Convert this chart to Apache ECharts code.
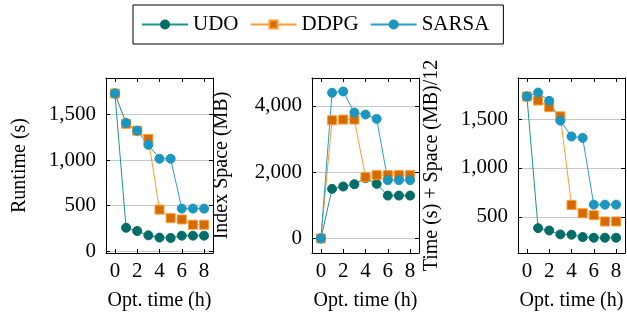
<!DOCTYPE html>
<html>
<head>
<meta charset="utf-8">
<script src="https://cdn.jsdelivr.net/npm/echarts@6/dist/echarts.min.js"></script>
<style>
  html, body { margin: 0; padding: 0; background: #fff; }
  #chart { width: 627px; height: 318px; }
</style>
</head>
<body>
<div id="chart"></div>
<script>
const hours = [0, 1, 2, 3, 4, 5, 6, 7, 8]
const hourTicks = [0, 2, 4, 6, 8]

const runtimeUdo = [1730, 257, 221, 174, 149, 145, 170, 170, 170]
const runtimeDdpg = [1730, 1398, 1322, 1232, 456, 362, 348, 290, 290]
const runtimeSarsa = [1730, 1406, 1322, 1167, 1014, 1014, 467, 467, 467]
const runtimeTicks = [0, 500, 1000, 1500]

const spaceUdo = [0, 1495, 1566, 1636, 1820, 1646, 1293, 1293, 1293]
const spaceDdpg = [0, 3565, 3586, 3586, 1848, 1909, 1909, 1909, 1909]
const spaceSarsa = [0, 4394, 4434, 3798, 3737, 3606, 1757, 1757, 1757]
const spaceTicks = [0, 2000, 4000]

const combinedUdo = [1730, 385, 361, 321, 318, 294, 287, 287, 287]
const combinedDdpg = [1730, 1689, 1622, 1527, 622, 537, 517, 453, 453]
const combinedSarsa = [1730, 1770, 1686, 1483, 1321, 1307, 625, 625, 625]
const combinedTicks = [500, 1000, 1500]

const FONT = 'Liberation Serif'

const panels = [
  { left: 106, yName: 'Runtime (s)', ticks: runtimeTicks, min: -20, max: 1900, gap: 76,
    data: [runtimeUdo, runtimeDdpg, runtimeSarsa] },
  { left: 312, yName: 'Index Space (MB)', ticks: spaceTicks, min: -440, max: 4840, gap: 80,
    data: [spaceUdo, spaceDdpg, spaceSarsa] },
  { left: 518, yName: 'Time (s) + Space (MB)/12', ticks: combinedTicks, min: 131, max: 1919, gap: 76,
    data: [combinedUdo, combinedDdpg, combinedSarsa] }
]

const styles = [
  { name: 'UDO', symbol: 'circle', fill: '#006d68', border: '#006d68', line: '#18968f' },
  { name: 'DDPG', symbol: 'rect', fill: '#d46a00', border: '#ff9a30', line: '#ff9a30' },
  { name: 'SARSA', symbol: 'circle', fill: '#1b96c0', border: '#1b96c0', line: '#2a9ec6' }
]

const fmt = v => v.toLocaleString('en-US')

const grid = []
const xAxis = []
const yAxis = []
const series = []

panels.forEach((p, i) => {
  grid.push({ left: p.left, top: 78, width: 107, height: 175 })
  const xBase = {
    type: 'value', gridIndex: i, min: -0.8, max: 8.8,
    axisLine: { show: true, onZero: false, lineStyle: { color: '#000', width: 1 } },
    axisTick: { show: true, inside: true, length: 4, customValues: hourTicks, lineStyle: { color: '#000' } },
    splitLine: { show: false }
  }
  xAxis.push({
    ...xBase, position: 'bottom',
    name: 'Opt. time (h)', nameLocation: 'middle', nameGap: 38,
    nameTextStyle: { fontFamily: FONT, fontSize: 20, color: '#000' },
    axisLabel: { customValues: hourTicks, margin: 8, fontFamily: FONT, fontSize: 21, color: '#000' }
  })
  xAxis.push({ ...xBase, position: 'top', axisLabel: { show: false } })

  const yBase = {
    type: 'value', gridIndex: i, min: p.min, max: p.max,
    axisLine: { show: true, onZero: false, lineStyle: { color: '#000', width: 1 } },
    axisTick: { show: true, inside: true, length: 4, customValues: p.ticks, lineStyle: { color: '#000' } }
  }
  yAxis.push({
    ...yBase, position: 'left',
    name: p.yName, nameLocation: 'middle', nameGap: p.gap, nameRotate: 90,
    nameTextStyle: { fontFamily: FONT, fontSize: 20, color: '#000' },
    axisLabel: { customValues: p.ticks, margin: 10, formatter: fmt, fontFamily: FONT, fontSize: 21, color: '#000' },
    splitLine: { show: true, lineStyle: { color: '#c8c8c8', width: 1 } }
  })
  yAxis.push({ ...yBase, position: 'right', axisLabel: { show: false }, splitLine: { show: false } })

  styles.forEach((s, k) => {
    series.push({
      name: s.name,
      type: 'line',
      xAxisIndex: i * 2,
      yAxisIndex: i * 2,
      data: hours.map((h, j) => [h, p.data[k][j]]),
      symbol: s.symbol,
      symbolSize: 9,
      showAllSymbol: true,
      animation: false,
      lineStyle: { color: s.line, width: 1 },
      itemStyle: { color: s.fill, borderColor: s.border, borderWidth: 1 },
      emphasis: { disabled: true }
    })
  })
})

const chart = echarts.init(document.getElementById('chart'))
chart.setOption({
  animation: false,
  legend: {
    data: styles.map(s => s.name),
    left: 133,
    top: 5,
    padding: [9, 14, 9, 8],
    itemWidth: 46,
    itemHeight: 10,
    itemGap: 11,
    borderColor: '#000',
    borderWidth: 1,
    textStyle: { fontFamily: FONT, fontSize: 21, color: '#000' }
  },
  grid,
  xAxis,
  yAxis,
  series
})
</script>
</body>
</html>
